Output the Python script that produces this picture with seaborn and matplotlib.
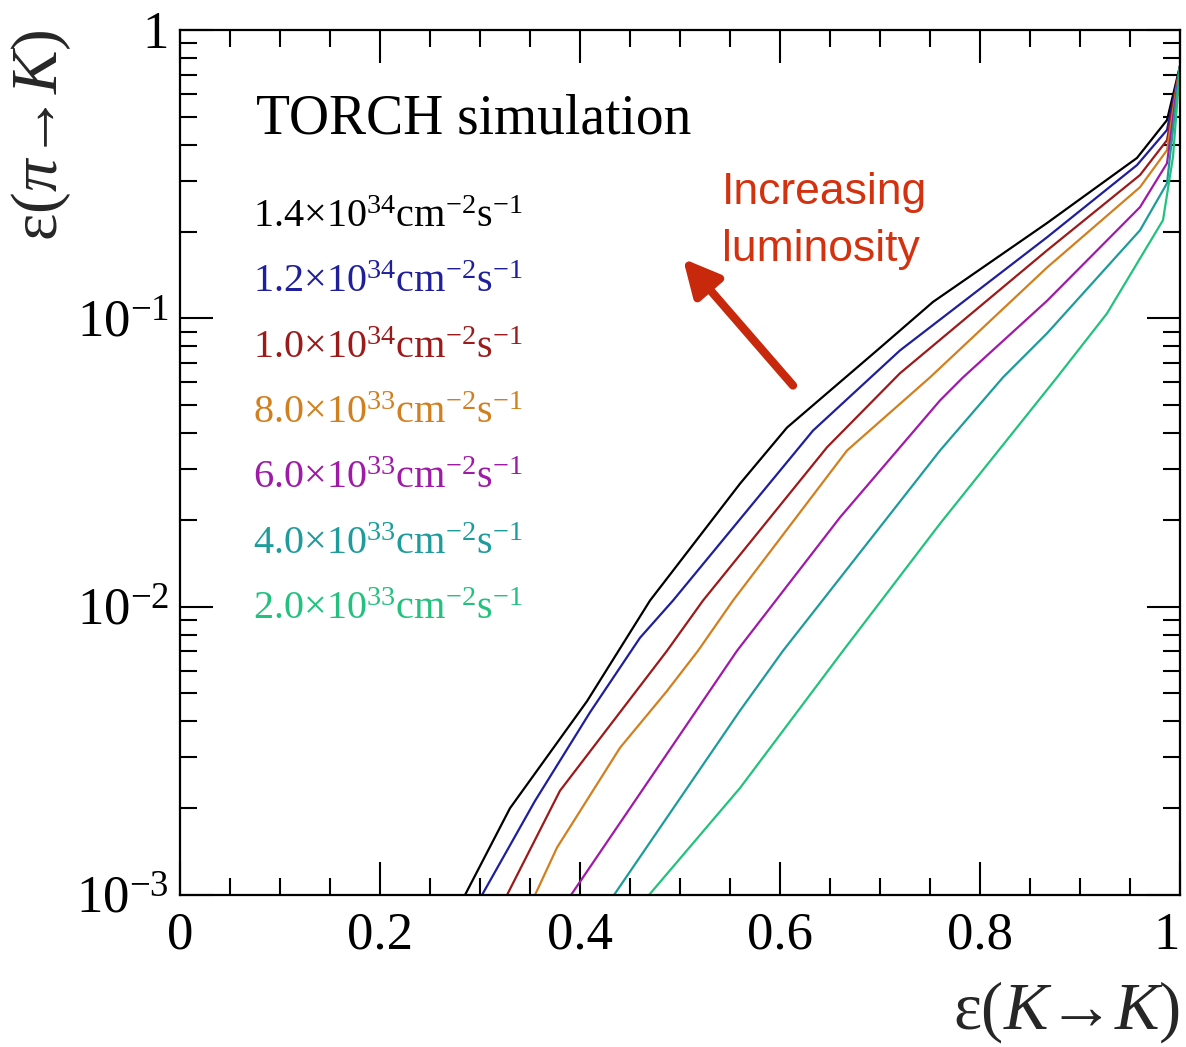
import numpy as np
import pandas as pd
import matplotlib
matplotlib.use("Agg")
import matplotlib.pyplot as plt
import matplotlib.ticker as mticker
import seaborn as sns

# ---- data ----
labels = [r"1.4×10$^{34}$cm$^{-2}$s$^{-1}$",
          r"1.2×10$^{34}$cm$^{-2}$s$^{-1}$",
          r"1.0×10$^{34}$cm$^{-2}$s$^{-1}$",
          r"8.0×10$^{33}$cm$^{-2}$s$^{-1}$",
          r"6.0×10$^{33}$cm$^{-2}$s$^{-1}$",
          r"4.0×10$^{33}$cm$^{-2}$s$^{-1}$",
          r"2.0×10$^{33}$cm$^{-2}$s$^{-1}$"]
colors = ["#000000", "#1f1f9c", "#9c1a1a", "#d2801f", "#a01aa8", "#1e9c9c", "#22c27e"]

x_14 = [0.285, 0.33, 0.407, 0.47, 0.56, 0.607, 0.697, 0.753, 0.867, 0.957, 0.987, 1.0]
y_14 = [0.001, 0.0020, 0.0047, 0.0105, 0.0267, 0.0418, 0.0774, 0.114, 0.214, 0.36, 0.487, 0.75]
x_12 = [0.302, 0.355, 0.41, 0.46, 0.493, 0.633, 0.72, 0.867, 0.957, 0.987, 1.0]
y_12 = [0.001, 0.00212, 0.0043, 0.0078, 0.0105, 0.0408, 0.0774, 0.191, 0.34, 0.45, 0.75]
x_10 = [0.327, 0.38, 0.487, 0.523, 0.647, 0.72, 0.867, 0.96, 0.987, 1.0]
y_10 = [0.001, 0.0023, 0.00703, 0.0105, 0.0357, 0.0645, 0.172, 0.314, 0.415, 0.75]
x_08 = [0.355, 0.377, 0.44, 0.487, 0.518, 0.553, 0.667, 0.75, 0.867, 0.96, 0.987, 1.0]
y_08 = [0.001, 0.00146, 0.00324, 0.0051, 0.00703, 0.0105, 0.0348, 0.0624, 0.15, 0.285, 0.383, 0.75]
x_06 = [0.391, 0.557, 0.66, 0.76, 0.783, 0.867, 0.96, 0.987, 1.0]
y_06 = [0.001, 0.00703, 0.0204, 0.0519, 0.0624, 0.115, 0.243, 0.345, 0.75]
x_04 = [0.434, 0.56, 0.603, 0.76, 0.823, 0.867, 0.96, 0.987, 1.0]
y_04 = [0.001, 0.00436, 0.00703, 0.0348, 0.0624, 0.0887, 0.202, 0.294, 0.75]
x_02 = [0.469, 0.56, 0.663, 0.76, 0.877, 0.927, 0.983, 0.993, 1.0]
y_02 = [0.001, 0.00235, 0.00703, 0.0194, 0.0624, 0.104, 0.219, 0.363, 0.75]

xs = [x_14, x_12, x_10, x_08, x_06, x_04, x_02]
ys = [y_14, y_12, y_10, y_08, y_06, y_04, y_02]

x_ticks = [0, 0.2, 0.4, 0.6, 0.8, 1.0]
x_ticklabels = ["0", "0.2", "0.4", "0.6", "0.8", "1"]
y_ticks = [1e-3, 1e-2, 1e-1, 1]
y_ticklabels = [r"$10^{-3}$", r"$10^{-2}$", r"$10^{-1}$", "1"]

frames = []
for lab, xv, yv in zip(labels, xs, ys):
    frames.append(pd.DataFrame({"x": xv, "y": yv, "series": lab}))
df = pd.concat(frames, ignore_index=True)

# ---- style ----
sns.set_theme(style="ticks")
plt.rcParams["font.family"] = ["Liberation Serif", "DejaVu Serif"]
plt.rcParams["mathtext.fontset"] = "custom"
plt.rcParams["mathtext.rm"] = "Liberation Serif"
plt.rcParams["mathtext.it"] = "Liberation Serif:italic"
plt.rcParams["mathtext.bf"] = "Liberation Serif:bold"

fig = plt.figure(figsize=(11.86, 10.47), dpi=100)
ax = fig.add_axes([180 / 1186, 1 - 895 / 1047, 1000 / 1186, 865 / 1047])

sns.lineplot(data=df, x="x", y="y", hue="series", palette=dict(zip(labels, colors)),
             hue_order=labels, sort=False, estimator=None, units="series",
             lw=1.6, ax=ax, legend=False)

ax.set_yscale("log")
ax.set_xlim(0, 1)
ax.set_ylim(1e-3, 1)

ax.set_xticks(x_ticks)
ax.set_xticklabels(x_ticklabels)
ax.xaxis.set_minor_locator(mticker.MultipleLocator(0.05))
ax.set_yticks(y_ticks)
ax.set_yticklabels(y_ticklabels)
ax.yaxis.set_minor_locator(mticker.LogLocator(base=10, subs=np.arange(2, 10)))
ax.yaxis.set_minor_formatter(mticker.NullFormatter())

ax.tick_params(which="both", direction="in", top=True, right=True, width=1.5, colors="black",
               labelsize=38)
ax.tick_params(which="major", length=24)
ax.tick_params(which="minor", length=12)
ax.tick_params(axis="x", pad=12)
ax.tick_params(axis="y", pad=8)
for s in ax.spines.values():
    s.set_linewidth(1.6)
    s.set_color("black")
ax.get_xticklabels()[-1].set_horizontalalignment("right")

ax.set_xlabel(r"ε($K$→$K$)", fontsize=48, loc="right", labelpad=14)
ax.set_ylabel(r"ε($\pi$→$K$)", fontsize=47, loc="top", labelpad=2)

# ---- legend: text-only, coloured entries ----
ax.text(0.076, 0.896, "TORCH simulation", transform=ax.transAxes, fontsize=40,
        va="center", ha="left", color="black")
handles = ax.get_lines()[:len(labels)]
leg = ax.legend(handles, labels, loc="upper left",
                bbox_to_anchor=(0.073, 0.805), frameon=False, handlelength=0, handletextpad=0,
                fontsize=29, labelspacing=0.7, borderaxespad=0, borderpad=0)
for h in leg.legend_handles:
    h.set_visible(False)
for t, c in zip(leg.get_texts(), colors):
    t.set_color(c)

# ---- annotation ----
ax.annotate("", xy=(0.503, 0.161), xytext=(0.613, 0.0585),
            arrowprops=dict(arrowstyle="-|>,head_length=1.8,head_width=0.9", lw=6, color="#c8290c",
                            shrinkA=0, shrinkB=0))
ax.text(0.542, 0.779, "Increasing\nluminosity", transform=ax.transAxes, fontsize=32,
        family=["Liberation Sans", "DejaVu Sans"], color="#d4310f", va="center", ha="left",
        linespacing=1.5)

fig.savefig("out.png", dpi=100, facecolor="white")
